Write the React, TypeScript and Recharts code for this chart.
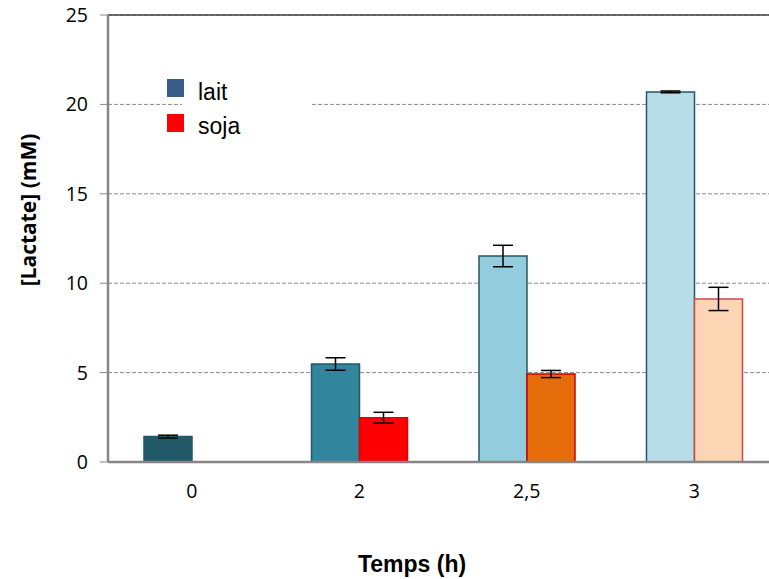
import { BarChart, Bar, XAxis, YAxis, CartesianGrid, ErrorBar, Cell, ReferenceLine } from 'recharts';

const temps = ['0', '2', '2,5', '3'];
const lait = [1.42, 5.48, 11.52, 20.7];
const laitErr = [0.08, 0.35, 0.6, 0.05];
const soja = [null, 2.48, 4.92, 9.12];
const sojaErr = [null, 0.3, 0.2, 0.65];
const yTicks = [0, 5, 10, 15, 20, 25];

const laitFills = ['#215968', '#31859C', '#93CDDD', '#B7DEE8'];
const sojaFills = ['#FF0000', '#FF0000', '#E46C0A', '#FCD5B5'];
const sojaStrokes = ['#C00000', '#E00000', '#D00000', '#D04848'];

const data = temps.map((t, i) => ({
  temps: t,
  lait: lait[i],
  laitErr: laitErr[i],
  soja: soja[i],
  sojaErr: sojaErr[i],
}));

const arial = '"Liberation Sans", Arial, sans-serif';
const tickFont = '"Open Sans", "Noto Sans", sans-serif';

export default function App() {
  return (
    <div style={{ position: 'absolute', left: 0, top: 0, width: 769, height: 579, overflow: 'hidden', background: '#fff', fontFamily: arial }}>
      <BarChart
        width={790}
        height={579}
        data={data}
        margin={{ top: 15, right: 12, left: 0, bottom: 77 }}
        barCategoryGap={36}
        barGap={0}
      >
        <CartesianGrid vertical={false} stroke="#8c8c8c" strokeDasharray="4 2" />
        <ReferenceLine y={25} stroke="#404040" strokeWidth={1.5} />
        <XAxis
          dataKey="temps"
          height={40}
          tickLine={false}
          tickSize={0}
          tickMargin={22}
          axisLine={{ stroke: '#868686', strokeWidth: 2.5 }}
          tick={{ fontSize: 19.5, fill: '#000', fontFamily: tickFont }}
        />
        <YAxis
          width={108}
          domain={[0, 25]}
          ticks={yTicks}
          interval={0}
          tickSize={8}
          tickMargin={12}
          axisLine={{ stroke: '#868686', strokeWidth: 2.5 }}
          tickLine={{ stroke: '#868686', strokeWidth: 1 }}
          tick={{ fontSize: 19.5, fill: '#000', fontFamily: tickFont }}
        />
        <Bar dataKey="lait" isAnimationActive={false} strokeWidth={1.5}>
          {data.map((_, i) => (
            <Cell key={i} fill={laitFills[i]} stroke="#215968" />
          ))}
          <ErrorBar dataKey="laitErr" width={10} stroke="#000" strokeWidth={1.5} direction="y" />
        </Bar>
        <Bar dataKey="soja" isAnimationActive={false} strokeWidth={1.5}>
          {data.map((_, i) => (
            <Cell key={i} fill={sojaFills[i]} stroke={sojaStrokes[i]} />
          ))}
          <ErrorBar dataKey="sojaErr" width={10} stroke="#000" strokeWidth={1.5} direction="y" />
        </Bar>
      </BarChart>

      {/* legend, with its white box over the 20 gridline */}
      <div style={{ position: 'absolute', left: 182, top: 96, width: 128, height: 16, background: '#fff' }} />
      <div style={{ position: 'absolute', left: 167, top: 79, width: 17, height: 18, background: '#385D8A' }} />
      <div style={{ position: 'absolute', left: 198, top: 79, fontSize: 23, lineHeight: '26px', color: '#000' }}>lait</div>
      <div style={{ position: 'absolute', left: 167, top: 114, width: 17, height: 18, background: '#FF0000' }} />
      <div style={{ position: 'absolute', left: 198, top: 113, fontSize: 23, lineHeight: '26px', color: '#000' }}>soja</div>

      <div
        style={{
          position: 'absolute',
          left: 28,
          top: 210,
          transform: 'translate(-50%, -50%) rotate(-90deg)',
          whiteSpace: 'nowrap',
          fontSize: 21,
          fontWeight: 'bold',
          fontFamily: tickFont,
          color: '#000',
        }}
      >
        [Lactate] (mM)
      </div>
      <div
        style={{
          position: 'absolute',
          left: 412,
          top: 564,
          transform: 'translate(-50%, -50%)',
          whiteSpace: 'nowrap',
          fontSize: 23,
          fontWeight: 'bold',
          color: '#000',
        }}
      >
        Temps (h)
      </div>
    </div>
  );
}
